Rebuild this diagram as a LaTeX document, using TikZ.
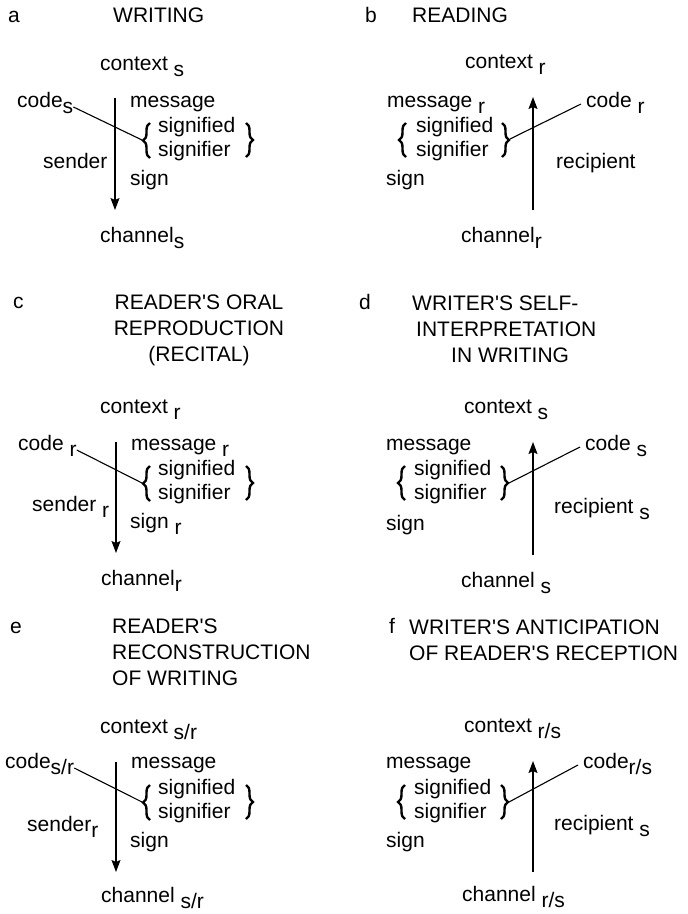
\documentclass[tikz,border=0pt]{standalone}
\usepackage{fontspec}
\setmainfont{Liberation Sans}[Ligatures=TeXOff]
\usetikzlibrary{arrows.meta,decorations.pathreplacing}

% lowered index, same size as the word
\newcommand{\lo}[1]{\raisebox{-6pt}{#1}}

\tikzset{
  lbl/.style={inner sep=0pt, anchor=base west, font=\fontsize{21}{26}\selectfont},
  flow/.style={line width=1.3pt, -{Stealth[length=12pt,width=9pt,inset=2pt]}},
  link/.style={line width=1.1pt},
  brc/.style={line width=2.4pt, decorate, decoration={brace, amplitude=7pt}}
}

\begin{document}
\begin{tikzpicture}[x=1pt,y=-1pt]
  \useasboundingbox (0,0) rectangle (688,914);

  % panel titles (a multi-line node sits on its last line)
  \node[lbl] (letA) at (8,22) {a};
  \node[lbl] (ttlA) at (113,22) {WRITING};
  \node[lbl] (letB) at (365,22) {b};
  \node[lbl] (ttlB) at (412,22) {READING};
  \node[lbl] (letC) at (13,308) {c};
  \node[lbl, anchor=base, align=center] (ttlC) at (199,361) {READER'S ORAL\\REPRODUCTION\\(RECITAL)};
  \node[lbl] (letD) at (359,309) {d};
  \node[lbl, align=left] (ttlD) at (412,362) {WRITER'S SELF-\\\hspace*{4pt}INTERPRETATION\\\hspace*{39pt}IN WRITING};
  \node[lbl] (letE) at (10,633) {e};
  \node[lbl, align=left] (ttlE) at (112,685) {READER'S\\RECONSTRUCTION\\OF WRITING};
  \node[lbl] (letF) at (389,633) {f};
  \node[lbl, align=left] (ttlF) at (409,660) {WRITER'S ANTICIPATION\\OF READER'S RECEPTION};

  % a: writing
  \node[lbl] (ctxA) at (100,70) {context \lo{s}};
  \node[lbl] (codeA) at (17,107) {code\lo{s}};
  \node[lbl] (msgA) at (130,107) {message};
  \node[lbl] (sfdA) at (158,132) {signified};
  \node[lbl] (sfrA) at (158,156) {signifier};
  \node[lbl] (sndA) at (43,168) {sender};
  \node[lbl] (sgnA) at (130,185) {sign};
  \node[lbl] (chnA) at (100,242) {channel\lo{s}};
  \coordinate (topA) at (115,98);
  \coordinate (botA) at (115,210);
  \coordinate (tipA) at (142,140);
  \draw[flow] (topA) -- (botA);
  \draw[brc] (150,158) -- (150,123);
  \draw[brc] (246,123) -- (246,157);
  \draw[link] (codeA.base east) -- (tipA);

  % b: reading
  \node[lbl] (ctxB) at (465,68) {context \lo{r}};
  \node[lbl] (msgB) at (387,107) {message \lo{r}};
  \node[lbl] (codeB) at (586,107) {code \lo{r}};
  \node[lbl] (sfdB) at (416,132) {signified};
  \node[lbl] (sfrB) at (416,156) {signifier};
  \node[lbl] (rcpB) at (556,168) {recipient};
  \node[lbl] (sgnB) at (386,185) {sign};
  \node[lbl] (chnB) at (461,242) {channel\lo{r}};
  \coordinate (botB) at (533,210);
  \coordinate (topB) at (533,97);
  \coordinate (tipB) at (510,139);
  \draw[flow] (botB) -- (topB);
  \draw[brc] (406,157) -- (406,123);
  \draw[brc] (502,123) -- (502,157);
  \draw[link] ([xshift=-5pt,yshift=3pt]codeB.base west) -- (tipB);

  % c: oral reproduction
  \begin{scope}[shift={(0,343)}]
    \node[lbl] (ctxC) at (100,70) {context \lo{r}};
    \node[lbl] (codeC) at (18,107) {code \lo{r}};
    \node[lbl] (msgC) at (131,107) {message \lo{r}};
    \node[lbl] (sfdC) at (158,132) {signified};
    \node[lbl] (sfrC) at (158,156) {signifier};
    \node[lbl] (sndC) at (32,168) {sender \lo{r}};
    \node[lbl] (sgnC) at (130,185) {sign \lo{r}};
    \node[lbl] (chnC) at (101,242) {channel\lo{r}};
    \coordinate (topC) at (116,99);
    \coordinate (botC) at (116,210);
    \coordinate (tipC) at (142,140);
    \draw[flow] (topC) -- (botC);
    \draw[brc] (150,158) -- (150,123);
    \draw[brc] (246,123) -- (246,157);
    \draw[link] (codeC.base east) -- (tipC);
  \end{scope}

  % d: self-interpretation
  \begin{scope}[shift={(0,343)}]
    \node[lbl] (ctxD) at (464,70) {context \lo{s}};
    \node[lbl] (msgD) at (386,107) {message};
    \node[lbl] (codeD) at (585,107) {code \lo{s}};
    \node[lbl] (sfdD) at (414,132) {signified};
    \node[lbl] (sfrD) at (414,156) {signifier};
    \node[lbl] (rcpD) at (554,170) {recipient \lo{s}};
    \node[lbl] (sgnD) at (386,187) {sign};
    \node[lbl] (chnD) at (461,244) {channel \lo{s}};
    \coordinate (botD) at (533,212);
    \coordinate (topD) at (533,99);
    \coordinate (tipD) at (509,140);
    \draw[flow] (botD) -- (topD);
    \draw[brc] (405,157) -- (405,123);
    \draw[brc] (501,123) -- (501,157);
    \draw[link] ([xshift=-5pt,yshift=3pt]codeD.base west) -- (tipD);
  \end{scope}

  % e: reconstruction
  \begin{scope}[shift={(0,661)}]
    \node[lbl] (ctxE) at (100,72) {context \lo{s/r}};
    \node[lbl] (codeE) at (5,107) {code\lo{s/r}};
    \node[lbl] (msgE) at (131,107) {message};
    \node[lbl] (sfdE) at (158,133) {signified};
    \node[lbl] (sfrE) at (158,157) {signifier};
    \node[lbl] (sndE) at (27,170) {sender\lo{r}};
    \node[lbl] (sgnE) at (130,186) {sign};
    \node[lbl] (chnE) at (101,241) {channel \lo{s/r}};
    \coordinate (topE) at (116,101);
    \coordinate (botE) at (116,211);
    \coordinate (tipE) at (142,141);
    \draw[flow] (topE) -- (botE);
    \draw[brc] (150,159) -- (150,124);
    \draw[brc] (246,124) -- (246,158);
    \draw[link] (codeE.base east) -- (tipE);
  \end{scope}

  % f: anticipation
  \begin{scope}[shift={(0,661)}]
    \node[lbl] (ctxF) at (464,71) {context \lo{r/s}};
    \node[lbl] (msgF) at (386,107) {message};
    \node[lbl] (codeF) at (583,107) {code\lo{r/s}};
    \node[lbl] (sfdF) at (414,133) {signified};
    \node[lbl] (sfrF) at (414,157) {signifier};
    \node[lbl] (rcpF) at (554,169) {recipient \lo{s}};
    \node[lbl] (sgnF) at (386,186) {sign};
    \node[lbl] (chnF) at (462,240) {channel \lo{r/s}};
    \coordinate (botF) at (533,211);
    \coordinate (topF) at (533,100);
    \coordinate (tipF) at (509,141);
    \draw[flow] (botF) -- (topF);
    \draw[brc] (405,158) -- (405,124);
    \draw[brc] (501,124) -- (501,158);
    \draw[link] ([xshift=-5pt,yshift=3pt]codeF.base west) -- (tipF);
  \end{scope}
\end{tikzpicture}
\end{document}
